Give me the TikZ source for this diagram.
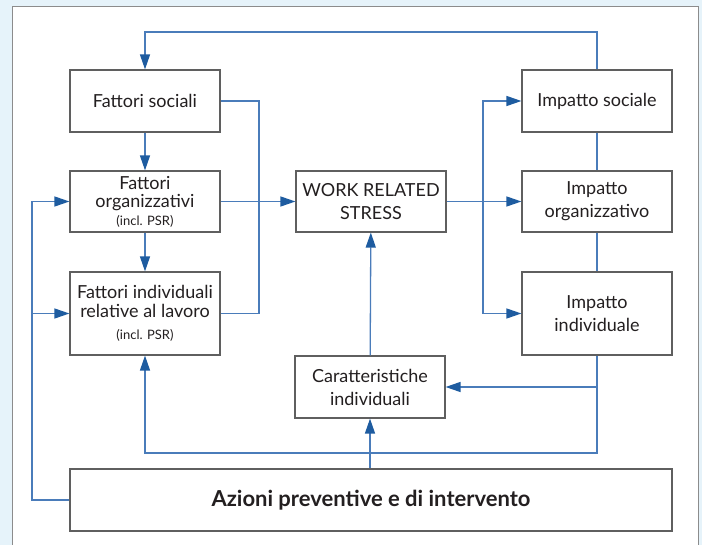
\documentclass[tikz,border=0pt]{standalone}
\usepackage{fontspec}
\setmainfont{Lato}
\usetikzlibrary{arrows.meta}
\definecolor{sfondo}{RGB}{230,243,250}
\definecolor{cornice}{RGB}{140,140,140}
\definecolor{linea}{RGB}{74,124,186}
\definecolor{punta}{RGB}{30,92,160}
\definecolor{bordo}{RGB}{95,95,95}
\definecolor{testo}{RGB}{35,31,32}
\newcommand{\psr}{{\fontsize{13}{15}\selectfont (incl. PSR)}}
\begin{document}
\begin{tikzpicture}[x=1pt,y=-1pt,
  box/.style={shape=rectangle,draw=bordo,line width=1.2pt,fill=white,text=testo,minimum width=150pt,minimum height=62pt,inner sep=2pt,align=center,font=\fontsize{18}{23}\selectfont},
  flow/.style={draw=linea,line width=1.3pt},
  flowArrow/.style={flow,-{Triangle[length=15pt,width=10pt,color=punta]}}]
  \useasboundingbox (0,0) rectangle (702,545);
  \fill[sfondo] (0,0) rectangle (702,545);
  \draw[cornice,fill=white,line width=1pt] (12,7) rectangle (698,550);

  \node[box] (fattoriSociali) at (145,101) {Fattori sociali};
  \node[box,minimum height=61pt] (fattoriOrganizzativi) at (145,201.5) {Fattori\\[-5pt]organizzativi\\[-5pt]\psr};
  \node[box,minimum height=83pt] (fattoriIndividuali) at (145,313.5) {Fattori individuali\\[-4pt]relative al lavoro\\[-1pt]\psr};
  \node[box,minimum height=61pt] (workRelatedStress) at (371,201.5) {WORK RELATED\\STRESS};
  \node[box] (impattoSociale) at (597,101) {Impatto sociale};
  \node[box,minimum height=61pt] (impattoOrganizzativo) at (597,201.5) {Impatto\\organizzativo};
  \node[box,minimum height=83pt] (impattoIndividuale) at (597,313.5) {Impatto\\individuale};
  \node[box] (caratteristicheIndividuali) at (370,387) {Caratteristiche\\individuali};
  \node[box,minimum width=602pt,font=\fontsize{22}{26}\selectfont\bfseries] (azioniPreventive) at (371,500) {Azioni preventive e di intervento};

  \coordinate (sopra) at (370,32);
  \coordinate (nodoSinistro) at (259,201.5);
  \coordinate (nodoDestro) at (483,201.5);
  \coordinate (sotto) at (597,453);
  \coordinate (ramoCaratteristiche) at (597,387);
  \coordinate (margineAzioni) at (32,500);
  \coordinate (margineIndividuali) at (32,313.5);

  \draw[flowArrow] (impattoSociale.north) |- (sopra) -| (fattoriSociali.north);
  \draw[flowArrow] (fattoriSociali) -- (fattoriOrganizzativi);
  \draw[flowArrow] (fattoriOrganizzativi) -- (fattoriIndividuali);
  \draw[flow] (fattoriSociali.east) -| (nodoSinistro) |- (fattoriIndividuali.east);
  \draw[flowArrow] (fattoriOrganizzativi) -- (workRelatedStress);
  \draw[flowArrow] (workRelatedStress) -- (impattoOrganizzativo);
  \draw[flowArrow] (nodoDestro) |- (impattoSociale.west);
  \draw[flowArrow] (nodoDestro) |- (impattoIndividuale.west);
  \draw[flow] (impattoSociale) -- (impattoOrganizzativo);
  \draw[flow] (impattoOrganizzativo) -- (impattoIndividuale);
  \draw[flowArrow] (impattoIndividuale.south) -- (sotto) -| (fattoriIndividuali.south);
  \draw[flowArrow] (ramoCaratteristiche) -- (caratteristicheIndividuali.east);
  \draw[flowArrow] (caratteristicheIndividuali) -- (workRelatedStress);
  \draw[flowArrow] (azioniPreventive.north -| caratteristicheIndividuali) -- (caratteristicheIndividuali);
  \draw[flowArrow] (azioniPreventive.west) -- (margineAzioni) |- (fattoriOrganizzativi.west);
  \draw[flowArrow] (margineIndividuali) -- (fattoriIndividuali.west);
\end{tikzpicture}
\end{document}
